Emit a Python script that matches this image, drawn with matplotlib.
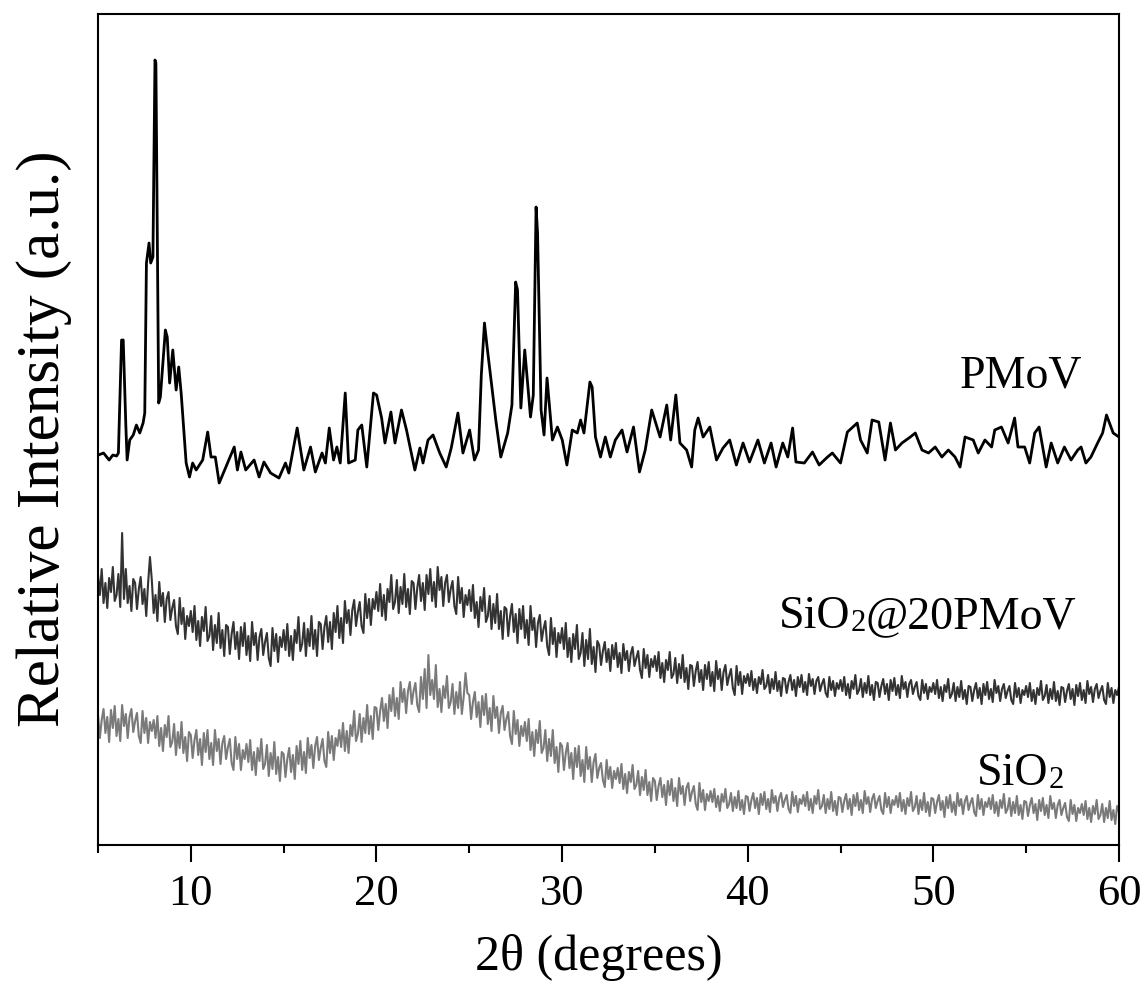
import numpy as np
import matplotlib
matplotlib.use('Agg')
import matplotlib.pyplot as plt

# ==================================================================
# XRD patterns of PMoV, SiO2@20PMoV and SiO2 (values read off the figure,
# intensity in arbitrary units, curves already offset)
# ==================================================================

# PMoV pattern: (2theta, intensity) pairs
pmov_2theta = [5.02, 5.3, 5.6, 5.8, 6.0, 6.1, 6.27, 6.36, 6.5, 6.57, 6.71, 6.9, 7.07, 7.25, 7.43, 7.52,
               7.61, 7.75, 7.84, 7.96, 8.07, 8.12, 8.27, 8.36, 8.63, 8.73, 8.86, 9.03, 9.21, 9.35, 9.48,
               9.75, 9.93, 10.1, 10.29, 10.64, 10.91, 11.09, 11.32, 11.53, 11.89, 12.34, 12.51, 12.7,
               12.96, 13.41, 13.68, 13.94, 14.3, 14.75, 15.1, 15.28, 15.73, 16.09, 16.45, 16.71, 17.07,
               17.25, 17.46, 17.69, 17.87, 18.05, 18.32, 18.5, 18.86, 19.0, 19.21, 19.48, 19.84, 20.01,
               20.28, 20.46, 20.78, 21.0, 21.35, 21.62, 22.07, 22.34, 22.51, 22.78, 23.05, 23.41, 23.76,
               24.03, 24.39, 24.66, 25.02, 25.28, 25.5, 25.65, 25.82, 25.95, 26.09, 26.43, 26.7, 27.07,
               27.3, 27.5, 27.6, 27.78, 27.99, 28.3, 28.45, 28.6, 28.68, 28.87, 29.03, 29.19, 29.48,
               29.75, 30.01, 30.26, 30.55, 30.82, 31.0, 31.18, 31.5, 31.62, 31.8, 32.07, 32.33, 32.6,
               32.87, 33.23, 33.5, 33.85, 34.17, 34.48, 34.83, 35.28, 35.64, 35.85, 36.13, 36.35, 36.71,
               36.98, 37.15, 37.33, 37.6, 37.96, 38.32, 38.67, 39.03, 39.39, 39.75, 40.1, 40.55, 40.9,
               41.26, 41.53, 41.89, 42.16, 42.42, 42.6, 43.05, 43.49, 43.85, 44.3, 44.56, 45.0, 45.37,
               45.9, 46.08, 46.44, 46.7, 47.06, 47.4, 47.69, 47.96, 48.31, 48.76, 49.03, 49.39, 49.74,
               50.1, 50.46, 50.81, 51.17, 51.44, 51.71, 52.15, 52.42, 52.78, 53.14, 53.31, 53.67, 54.03,
               54.38, 54.56, 54.92, 55.19, 55.46, 55.7, 56.08, 56.35, 56.7, 57.06, 57.42, 57.78, 57.96,
               58.22, 58.49, 58.85, 59.12, 59.33, 59.69, 60.0]
pmov_int = [390, 392, 385, 390, 389, 392, 505, 505, 420, 385, 405, 410, 420, 412, 422, 432,
            582, 602, 582, 588, 785, 782, 442, 448, 515, 508, 462, 495, 455, 478, 452,
            382, 368, 382, 375, 385, 413, 388, 388, 362, 378, 398, 375, 393,
            375, 385, 368, 383, 372, 367, 382, 372, 417, 375, 398, 373, 392,
            382, 417, 385, 398, 382, 452, 382, 385, 415, 420, 378, 452, 450,
            427, 402, 433, 402, 435, 415, 375, 397, 382, 405, 410, 392, 378,
            397, 432, 392, 415, 385, 395, 470, 522, 500, 478, 425, 388, 412,
            440, 563, 555, 437, 495, 428, 450, 638, 612, 435, 410, 467, 405,
            418, 405, 380, 415, 412, 425, 412, 463, 458, 408, 388, 408, 388,
            405, 415, 393, 418, 373, 395, 435, 408, 440, 405, 450, 402, 395,
            378, 415, 427, 408, 418, 385, 397, 405, 380, 402, 383, 405, 382,
            402, 378, 402, 388, 417, 383, 382, 393, 380, 388, 392, 382, 413,
            422, 405, 392, 425, 423, 385, 422, 395, 402, 408, 412, 395, 392,
            398, 388, 395, 388, 378, 408, 405, 392, 405, 398, 415, 418, 402,
            427, 398, 398, 382, 412, 418, 378, 402, 382, 398, 385, 395, 398,
            382, 388, 402, 412, 430, 412, 408]

# SiO2@20PMoV and SiO2 patterns, sampled every 0.1 deg from 5 to 60
scan_2theta = np.round(np.arange(5.0, 60.001, 0.1), 1)

sio2_pmov_int = [
    270, 250, 276, 242, 262, 237, 267, 253, 278, 244,   # 5
    250, 271, 238, 312, 246, 276, 242, 259, 234, 266,   # 6
    262, 236, 256, 268, 241, 256, 229, 262, 288, 265,   # 7
    232, 250, 224, 263, 239, 252, 223, 246, 253, 225,   # 8
    237, 245, 219, 211, 247, 221, 237, 206, 229, 219,   # 9
    234, 213, 239, 205, 224, 199, 228, 214, 238, 204,   # 10
    209, 229, 195, 220, 202, 232, 197, 215, 189, 220,   # 11
    218, 191, 211, 223, 196, 213, 186, 218, 199, 222,   # 12
    190, 209, 184, 223, 200, 212, 185, 208, 216, 190,   # 13
    203, 212, 187, 179, 217, 194, 211, 183, 208, 198,   # 14
    215, 195, 221, 189, 209, 185, 215, 202, 228, 194,   # 15
    201, 222, 189, 216, 199, 229, 196, 215, 189, 223,   # 16
    221, 196, 218, 229, 203, 223, 196, 232, 213, 239,   # 17
    207, 227, 202, 244, 222, 235, 210, 235, 245, 219,   # 18
    233, 243, 219, 212, 251, 227, 246, 220, 246, 236,   # 19
    253, 234, 261, 229, 250, 225, 256, 243, 270, 236,   # 20
    243, 265, 232, 258, 241, 271, 238, 256, 231, 264,   # 21
    262, 236, 257, 270, 244, 262, 235, 270, 251, 276,   # 22
    244, 263, 238, 278, 255, 268, 239, 262, 270, 243,   # 23
    256, 264, 239, 231, 268, 242, 257, 228, 250, 240,   # 24
    255, 234, 260, 227, 243, 218, 248, 234, 257, 223,   # 25
    229, 249, 216, 241, 222, 251, 216, 234, 206, 238,   # 26
    236, 209, 229, 241, 213, 231, 202, 236, 216, 239,   # 27
    207, 225, 200, 239, 215, 227, 198, 222, 230, 204,   # 28
    216, 224, 199, 190, 227, 201, 217, 188, 212, 202,   # 29
    217, 196, 222, 188, 207, 183, 211, 196, 220, 186,   # 30
    192, 212, 179, 205, 186, 216, 181, 198, 173, 204,   # 31
    200, 180, 194, 203, 183, 196, 174, 200, 186, 202,   # 32
    178, 192, 172, 201, 185, 194, 174, 191, 198, 179,   # 33
    187, 194, 175, 167, 196, 177, 190, 168, 186, 178,   # 34
    189, 174, 193, 167, 182, 163, 185, 175, 193, 167,   # 35
    171, 187, 162, 181, 167, 190, 163, 177, 156, 180,   # 36
    179, 159, 174, 183, 163, 175, 155, 180, 166, 183,   # 37
    159, 173, 154, 184, 166, 176, 155, 173, 180, 160,   # 38
    169, 176, 157, 150, 179, 160, 173, 151, 169, 162,   # 39
    171, 159, 174, 155, 166, 152, 168, 161, 175, 156,   # 40
    159, 170, 152, 166, 156, 173, 154, 164, 149, 167,   # 41
    166, 152, 163, 170, 155, 165, 149, 168, 158, 170,   # 42
    153, 163, 150, 171, 159, 166, 151, 164, 168, 154,   # 43
    161, 166, 152, 148, 168, 155, 164, 149, 162, 156,   # 44
    165, 154, 168, 150, 161, 147, 164, 156, 170, 151,   # 45
    155, 166, 148, 162, 152, 169, 150, 160, 145, 163,   # 46
    162, 148, 159, 166, 151, 161, 145, 165, 154, 167,   # 47
    150, 160, 147, 169, 156, 163, 148, 161, 165, 151,   # 48
    158, 163, 149, 145, 165, 152, 161, 146, 158, 153,   # 49
    162, 151, 165, 147, 158, 144, 160, 153, 166, 147,   # 50
    151, 162, 144, 158, 148, 164, 146, 155, 141, 159,   # 51
    158, 144, 155, 162, 147, 157, 141, 161, 150, 163,   # 52
    146, 156, 143, 165, 152, 159, 144, 156, 161, 147,   # 53
    154, 159, 145, 141, 162, 148, 157, 142, 155, 150,   # 54
    159, 148, 162, 144, 155, 141, 157, 150, 164, 145,   # 55
    149, 160, 142, 156, 146, 163, 144, 154, 140, 158,   # 56
    157, 143, 154, 161, 146, 156, 140, 160, 149, 162,   # 57
    145, 155, 142, 164, 151, 158, 143, 156, 161, 147,   # 58
    154, 159, 145, 141, 162, 148, 157, 142, 155, 150,   # 59
    158]                                                # 60

sio2_int = [
    130, 107, 125, 136, 112, 128, 103, 135, 117, 139,   # 5
    109, 126, 104, 140, 119, 131, 107, 128, 136, 113,   # 6
    124, 132, 109, 102, 134, 112, 127, 102, 123, 114,   # 7
    125, 107, 129, 99, 117, 94, 120, 108, 129, 98,      # 8
    103, 121, 90, 113, 97, 123, 92, 108, 84, 113,       # 9
    110, 87, 105, 115, 90, 106, 80, 112, 93, 115,       # 10
    86, 102, 80, 115, 94, 106, 81, 102, 109, 86,        # 11
    98, 106, 82, 75, 108, 86, 101, 75, 95, 86,          # 12
    101, 83, 105, 75, 93, 70, 97, 84, 106, 76,          # 13
    81, 100, 69, 92, 76, 103, 71, 88, 64, 93,           # 14
    91, 68, 86, 97, 73, 90, 66, 99, 81, 104,            # 15
    75, 93, 72, 107, 87, 100, 77, 99, 108, 85,          # 16
    97, 106, 84, 78, 113, 92, 109, 85, 107, 99,         # 17
    115, 98, 122, 94, 114, 92, 120, 109, 134, 104,      # 18
    111, 131, 103, 127, 112, 140, 111, 129, 106, 138,   # 19
    137, 115, 134, 147, 124, 141, 117, 150, 134, 157,   # 20
    129, 147, 126, 163, 143, 156, 132, 154, 163, 141,   # 21
    154, 162, 140, 133, 168, 146, 176, 137, 190, 150,   # 22
    165, 146, 180, 138, 156, 133, 159, 147, 169, 137,   # 23
    143, 161, 131, 153, 137, 163, 131, 148, 172, 152,   # 24
    150, 126, 143, 153, 128, 143, 118, 149, 130, 151,   # 25
    121, 137, 114, 149, 127, 138, 112, 132, 139, 115,   # 26
    126, 133, 109, 101, 134, 111, 125, 99, 119, 109,    # 27
    123, 104, 126, 95, 113, 89, 115, 102, 124, 92,      # 28
    97, 115, 84, 106, 89, 115, 82, 98, 73, 102,         # 29
    99, 75, 92, 102, 77, 92, 66, 97, 78, 99,            # 30
    69, 85, 63, 98, 76, 88, 63, 83, 91, 67,             # 31
    77, 82, 65, 58, 85, 66, 78, 57, 74, 66,             # 32
    77, 62, 81, 56, 71, 52, 73, 63, 80, 56,             # 33
    60, 74, 50, 68, 55, 75, 50, 63, 44, 67,             # 34
    64, 45, 59, 67, 48, 60, 40, 64, 50, 66,             # 35
    44, 57, 39, 67, 51, 59, 40, 57, 62, 44,             # 36
    53, 59, 41, 35, 62, 43, 55, 35, 51, 44,             # 37
    54, 43, 56, 38, 49, 34, 51, 43, 56, 37,             # 38
    41, 52, 34, 48, 37, 54, 35, 45, 31, 49,             # 39
    48, 34, 45, 52, 37, 47, 31, 51, 40, 53,             # 40
    36, 46, 33, 55, 42, 49, 34, 47, 52, 38,             # 41
    45, 50, 36, 32, 53, 39, 49, 33, 46, 41,             # 42
    50, 39, 53, 35, 46, 32, 49, 41, 55, 36,             # 43
    39, 50, 32, 46, 36, 53, 34, 44, 30, 48,             # 44
    47, 33, 44, 51, 36, 46, 30, 50, 39, 52,             # 45
    35, 45, 32, 54, 41, 48, 33, 46, 51, 37,             # 46
    44, 49, 35, 31, 52, 38, 48, 32, 45, 40,             # 47
    49, 38, 52, 34, 45, 31, 47, 39, 53, 34,             # 48
    38, 49, 31, 45, 35, 52, 33, 43, 29, 47,             # 49
    46, 32, 43, 50, 35, 44, 28, 48, 37, 50,             # 50
    33, 43, 30, 52, 39, 46, 31, 44, 49, 35,             # 51
    42, 47, 33, 29, 50, 36, 46, 30, 43, 38,             # 52
    47, 36, 50, 32, 43, 29, 45, 37, 51, 32,             # 53
    36, 47, 29, 43, 32, 49, 30, 40, 26, 44,             # 54
    43, 29, 40, 47, 32, 41, 25, 45, 34, 47,             # 55
    30, 40, 27, 49, 36, 42, 27, 40, 45, 30,             # 56
    37, 42, 28, 24, 45, 31, 40, 24, 37, 32,             # 57
    41, 30, 44, 26, 37, 23, 39, 31, 45, 26,             # 58
    30, 41, 23, 37, 27, 44, 25, 35, 21, 39,             # 59
    33]                                                 # 60

# curve labels: pieces (text, is_subscript) and left/baseline position
labels = [[('PMoV', False)],
          [('SiO', False), ('2', True), ('@20PMoV', False)],
          [('SiO', False), ('2', True)]]
label_pos = [(51.4, 458), (41.7, 217), (52.35, 60)]

plt.rcParams['font.family'] = ['Liberation Serif', 'DejaVu Serif']

fig = plt.figure(figsize=(11.46, 9.94), dpi=100)
ax = fig.add_axes([0.0855, 0.1499, 0.8909, 0.836])

ax.plot(scan_2theta, sio2_int, color='#7a7a7a', lw=1.5)
ax.plot(scan_2theta, sio2_pmov_int, color='#333333', lw=1.5)
ax.plot(pmov_2theta, pmov_int, color='black', lw=2.0)

for parts, (x, y) in zip(labels, label_pos):
    prev = None
    for text, sub in parts:
        fs = 22 if sub else 33
        if prev is None:
            prev = ax.text(x, y, text, fontsize=fs, ha='left', va='baseline')
        else:
            prev = ax.annotate(text, xy=(1, 0), xycoords=prev, fontsize=fs, ha='left', va='bottom')

ax.set_xlim(5, 60)
ax.set_ylim(0, 831)
ax.set_xticks([10, 20, 30, 40, 50, 60])
ax.set_xticks([5, 15, 25, 35, 45, 55], minor=True)
ax.set_yticks([])
ax.tick_params(axis='x', which='major', direction='out', length=12, width=1.5, pad=9, labelsize=32)
ax.tick_params(axis='x', which='minor', direction='out', length=6, width=1.5)
for s in ax.spines.values():
    s.set_linewidth(1.5)

ax.set_xlabel('2θ (degrees)', fontsize=36)
ax.xaxis.set_label_coords(0.4907, -0.107)
ax.set_ylabel('Relative Intensity (a.u.)', fontsize=44)
ax.yaxis.set_label_coords(-0.025, 0.489)

fig.savefig('out.png', dpi=100)
